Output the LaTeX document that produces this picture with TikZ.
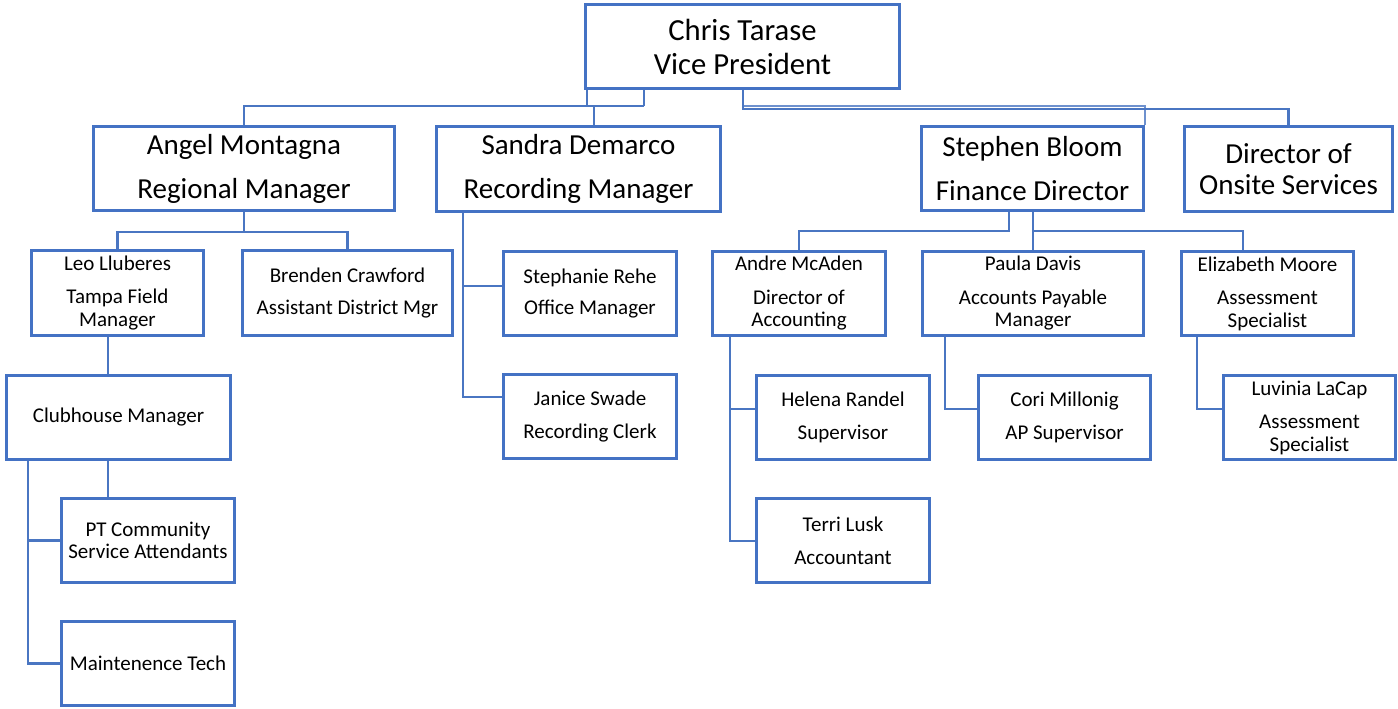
\documentclass[tikz,border=0pt]{standalone}
\usepackage{fontspec}
\setmainfont{Carlito}
\usetikzlibrary{backgrounds}
\definecolor{ocblue}{HTML}{4472C4}
\definecolor{ocline}{HTML}{4A76C2}
\tikzset{
  box/.style={draw=ocblue, line width=2.4pt, fill=white, align=center, inner sep=0pt, text=black},
  sz/.style 2 args={minimum width=#1*0.75pt-2.4pt, minimum height=#2*0.75pt-2.4pt},
  topf/.style={font=\fontsize{23}{25.5}\selectfont},
  medf/.style={font=\fontsize{21.75}{23.5}\selectfont},
  smlf/.style={font=\fontsize{15.75}{17}\selectfont},
  conn/.style={draw=ocline, line width=1.6pt},
  thinconn/.style={draw=ocline!80, line width=1pt}
}
\begin{document}
\begin{tikzpicture}[x=0.75pt,y=-0.75pt]
\useasboundingbox (0,0) rectangle (1398,708);
% ---- boxes
\node[box, topf, sz={317}{87}] (chris) at (742.5,46.5) {Chris Tarase\\Vice President};

\node[box, medf, sz={304}{87}] (angel) at (244,168.5) {Angel Montagna\\[9.5pt]Regional Manager};
\node[box, medf, sz={287}{88}] (sandra) at (578.5,169) {Sandra Demarco\\[9.5pt]Recording Manager};
\node[box, medf, sz={225}{87}] (stephen) at (1032.5,168.5) {Stephen Bloom\\[9.5pt]Finance Director};
\node[box, medf, sz={211}{88}] (onsite) at (1288.5,169) {Director of\\Onsite Services};

\node[box, smlf, sz={175}{88}] (leo) at (117.5,293) {Leo Lluberes\\[8pt]Tampa Field\\Manager};
\node[box, smlf, sz={213}{88}] (brenden) at (347.5,293) {Brenden Crawford\\[6.5pt]Assistant District Mgr};
\node[box, smlf, sz={227}{87}] (club) at (118.5,417.5) {Clubhouse Manager};
\node[box, smlf, sz={176}{87}] (pt) at (148,540.5) {PT Community\\Service Attendants};
\node[box, smlf, sz={176}{87}] (maint) at (148,663.5) {Maintenence Tech};

\node[box, smlf, sz={176}{87}] (steph) at (590,293.5) {Stephanie Rehe\\[6.5pt]Office Manager};
\node[box, smlf, sz={176}{87}] (janice) at (590,416.5) {Janice Swade\\[7.5pt]Recording Clerk};

\node[box, smlf, sz={176}{87}] (andre) at (799,293.5) {Andre McAden\\[8pt]Director of\\Accounting};
\node[box, smlf, sz={224}{87}] (paula) at (1033,293.5) {Paula Davis\\[8pt]Accounts Payable\\Manager};
\node[box, smlf, sz={175}{87}] (eliz) at (1267.5,293.5) {Elizabeth Moore\\[8pt]Assessment\\Specialist};

\node[box, smlf, sz={176}{87}] (helena) at (843,417.5) {Helena Randel\\[7.5pt]Supervisor};
\node[box, smlf, sz={176}{87}] (terri) at (843,540.5) {Terri Lusk\\[7.5pt]Accountant};
\node[box, smlf, sz={175}{87}] (cori) at (1064.5,417.5) {Cori Millonig\\[7.5pt]AP Supervisor};
\node[box, smlf, sz={175}{87}] (luv) at (1309.5,417.5) {Luvinia LaCap\\[8pt]Assessment\\Specialist};

% ---- coordinates for connector junctions
\coordinate (j1) at (587,106);
\coordinate (j2) at (644,106);
\coordinate (j3) at (594,106);
\coordinate (k1) at (743,109);
\coordinate (k2) at (743,106);
\coordinate (a1) at (244,232);
\coordinate (c1) at (108,0);
\coordinate (c2) at (28,0);
\coordinate (s1) at (463,0);
\coordinate (f1) at (1009,231);
\coordinate (f2) at (1033,231);
\coordinate (f3) at (1243,231);
\coordinate (d1) at (730,0);
\coordinate (p1) at (945,0);
\coordinate (e1) at (1197,0);

% ---- connectors (behind the boxes)
\begin{scope}[on background layer]
\draw[conn] (chris.south -| j1) -- (j1);
\draw[conn] (chris.south -| j2) -- (j2);
\draw[conn] (angel.north) |- (j2);
\draw[conn] (j3) -- (sandra.north -| j3);
\draw[thinconn] (k2) -| (stephen.north east);
\draw[conn] (chris.south -| k1) -- (k1) -| (onsite.north);

\draw[conn] (angel.south) -- (a1);
\draw[conn] (leo.north) |- (a1) -| (brenden.north);
\draw[conn] (leo.south -| c1) -- (club.north -| c1);
\draw[conn] (club.south -| c1) -- (pt.north -| c1);
\draw[conn] (club.south -| c2) |- (maint.west);
\draw[conn] (pt.west) -- (pt.west -| c2);

\draw[conn] (sandra.south -| s1) |- (janice.west |- 0,397);
\draw[conn] (steph.west |- 0,286) -- (s1 |- 0,286);

\draw[conn] (stephen.south -| f1) -- (f1) -| (andre.north);
\draw[conn] (stephen.south -| f2) -- (paula.north -| f2);
\draw[conn] (f2) -- (f3) -- (eliz.north -| f3);

\draw[conn] (andre.south -| d1) |- (terri.west |- 0,541);
\draw[conn] (helena.west |- 0,409) -- (d1 |- 0,409);
\draw[conn] (paula.south -| p1) |- (cori.west |- 0,409);
\draw[conn] (eliz.south -| e1) |- (luv.west |- 0,409);
\end{scope}
\end{tikzpicture}
\end{document}
